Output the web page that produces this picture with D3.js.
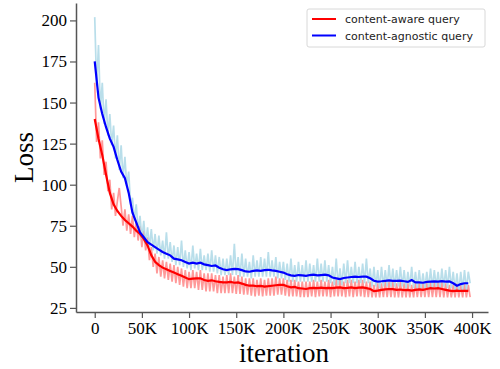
<!DOCTYPE html>
<head>
<meta charset="utf-8">
<style>
  body { margin: 0; background: #fff; }
  .tick text { font-family: "Liberation Serif", "Times New Roman", serif; font-size: 17px; fill: #000; }
  .axis-label { font-family: "Liberation Serif", "Times New Roman", serif; font-size: 27px; fill: #000; }
  .legend text { font-family: "DejaVu Sans", sans-serif; font-size: 11px; fill: #222; }
</style>
</head>
<body>
<div id="chart"></div>
<script src="https://d3js.org/d3.v7.min.js"></script>
<script>
// raw losses, one value every 2K iterations (0 .. 398K)
var rawAware = [
  162, 126, 138, 116, 127, 106, 114, 96, 103, 85,
  95, 81, 90, 98, 87, 75, 85, 72, 82, 70,
  81, 68, 78, 66, 75, 62, 72, 60, 68, 54,
  62, 50, 58, 46, 56, 44, 54, 43, 53, 42,
  52, 41, 51, 40, 50, 39, 49, 38, 48, 37,
  47, 37, 48, 37, 47, 36, 48, 36, 46, 35,
  46, 35, 46, 35, 45, 34, 45, 34, 44, 34,
  45, 34, 46, 34, 44, 33.5, 45, 33.5, 44, 33,
  43, 33, 43, 32.5, 43, 32, 42, 32.5, 43, 32,
  42, 32.5, 43, 32.5, 43, 32.5, 44, 33, 43, 33,
  43, 32.5, 42, 32, 42, 32, 42, 32, 41, 31.5,
  41, 31.5, 41, 31.5, 41, 32, 42, 31.5, 41, 32,
  42, 32, 41, 32, 42, 31.5, 41, 32, 42, 32,
  42, 32, 41, 31.5, 42, 32, 42, 31.5, 41, 32,
  42, 32, 42, 31.5, 41, 31.5, 41, 31.4, 39, 31.4,
  40, 31.4, 40, 31.5, 41, 31.5, 41, 31.5, 41, 31.4,
  40, 31.4, 41, 31.4, 40, 31.4, 40, 31.4, 39, 31.4,
  40, 31.5, 41, 31.5, 40, 31.5, 41, 31.5, 41, 31.5,
  41, 31.5, 41, 31.5, 41, 31.4, 40, 31.4, 39, 31.4,
  39, 31.4, 40, 31.4, 39, 31.4, 40, 31.4, 39, 31.5
];
var rawAgnostic = [
  202, 160, 185, 146, 162, 137, 152, 130, 143, 124,
  136, 116, 130, 109, 124, 104, 117, 99, 108, 88,
  92, 78, 88, 72, 81, 67, 78, 64, 74, 62,
  73, 60, 70, 58, 69, 57, 66, 55, 71, 55,
  65, 53, 63, 51, 62, 51, 66, 50, 60, 49,
  59, 48, 63, 49, 58, 48, 61, 48, 57, 48,
  58, 47, 60, 47, 57, 46, 56, 45, 55, 45,
  55, 45, 57, 45, 64, 45, 56, 44, 58, 44,
  55, 44, 53, 43, 57, 44, 54, 44, 56, 44,
  55, 44, 59, 44, 54, 44, 56, 43, 53, 43,
  53, 42, 52, 41, 55, 41, 51, 41, 53, 41,
  51, 41, 54, 41, 52, 41, 51, 41, 55, 41,
  52, 41, 54, 41, 51, 40, 50, 39, 55, 39,
  49, 39, 52, 40, 54, 40, 50, 40, 53, 40,
  50, 40, 52, 40, 55, 40, 49, 38, 50, 38,
  48, 37, 50, 38, 48, 38, 51, 38, 49, 38,
  48, 38, 50, 38, 48, 37, 47, 38, 50, 37,
  47, 37, 48, 37, 46, 37, 47, 37, 49, 37,
  48, 38, 47, 37, 49, 38, 48, 37, 50, 37,
  47, 36, 46, 35, 47, 36, 48, 36, 47, 40
];

// smoothed losses, one value every 4K iterations (0 .. 396K)
var smoothAware = [
  140, 128, 118, 106, 95, 88, 84, 81, 78.5, 76.5,
  74.5, 72, 70, 67, 63, 57, 53, 51, 49.5, 48.5,
  47.5, 46.5, 45.5, 44.5, 43.5, 42.5, 42.8, 43, 43, 42,
  41.5, 41.8, 41.2, 40.8, 40.5, 40.5, 40.8, 40.3, 40.5, 39.8,
  39, 38.5, 38.6, 38.2, 38.4, 38, 38.2, 38.5, 38.8, 39,
  39, 38.2, 37.5, 37.8, 37, 36.8, 36.5, 37, 37.2, 37,
  37.3, 37, 37.2, 37, 37.3, 37.5, 37, 37.2, 37.5, 37,
  37.3, 37.5, 37, 36.5, 35.2, 35.5, 36, 36.3, 36.5, 36.4,
  36, 36.2, 35.8, 36, 35.5, 36, 36.3, 36, 36.5, 37,
  36.8, 37, 36.5, 36, 35.5, 35.2, 35.5, 35.3, 35.4, 35.4
];
var smoothAgnostic = [
  175, 153, 143, 135, 128, 123, 115, 108, 104, 95,
  83, 77, 71, 68, 65, 63.5, 62, 60.5, 59, 58,
  57, 55, 54.5, 54, 53, 52, 52.5, 52, 52.5, 51.5,
  51, 50.5, 50.8, 49.5, 48.5, 48, 48.5, 48.8, 48.6, 48,
  47.2, 47, 47.5, 47.8, 47.5, 48, 48.2, 47.8, 47.5, 47,
  46.5, 45.5, 44.8, 44.5, 45, 44.8, 44.5, 45, 45.2, 44.8,
  45, 45.2, 44.8, 43.5, 43, 42.5, 43.2, 43.5, 43.8, 44,
  43.8, 44, 44, 43, 41.5, 41, 41.2, 41.5, 41.8, 41.5,
  41.5, 41.6, 41.2, 40.8, 42, 40.5, 40.5, 40.3, 40.8, 41,
  41.2, 41, 41.3, 41, 41.2, 40, 38.5, 39.5, 40, 40
];

var xTicks = [0, 50000, 100000, 150000, 200000, 250000, 300000, 350000, 400000];
var yTicks = [25, 50, 75, 100, 125, 150, 175, 200];
var seriesNames = ["content-aware query", "content-agnostic query"];

var width = 500, height = 369;
var margin = {left: 76, right: 488, top: 3, bottom: 312};

var svg = d3.select("#chart").append("svg")
    .attr("width", width)
    .attr("height", height);

var x = d3.scaleLinear().domain([-19850, 416900]).range([margin.left, margin.right]);
var y = d3.scaleLinear().domain([22.5, 210.6]).range([margin.bottom, margin.top]);

function toPoints(arr, step) {
    return arr.map(function(v, i) { return [i * step, v]; });
}

var line = d3.line()
    .x(function(d) { return x(d[0]); })
    .y(function(d) { return y(d[1]); });

// raw curves
svg.append("path")
    .datum(toPoints(rawAware, 2000))
    .attr("d", line)
    .attr("fill", "none")
    .attr("stroke", "#ff0000")
    .attr("stroke-opacity", 0.4)
    .attr("stroke-width", 1.7);

svg.append("path")
    .datum(toPoints(rawAgnostic, 2000))
    .attr("d", line)
    .attr("fill", "none")
    .attr("stroke", "#add8e6")
    .attr("stroke-opacity", 0.85)
    .attr("stroke-width", 1.7);

// smoothed curves
svg.append("path")
    .datum(toPoints(smoothAware, 4000))
    .attr("d", line)
    .attr("fill", "none")
    .attr("stroke", "#ff0000")
    .attr("stroke-width", 2.2);

svg.append("path")
    .datum(toPoints(smoothAgnostic, 4000))
    .attr("d", line)
    .attr("fill", "none")
    .attr("stroke", "#0000ff")
    .attr("stroke-width", 2.2);

// axes
var xAxis = svg.append("g")
    .attr("transform", "translate(0," + margin.bottom + ")")
    .call(d3.axisBottom(x).tickValues(xTicks).tickSizeInner(6).tickSizeOuter(0).tickPadding(4)
        .tickFormat(function(d) { return d === 0 ? "0" : (d / 1000) + "K"; }));

var yAxis = svg.append("g")
    .attr("transform", "translate(" + margin.left + ",0)")
    .call(d3.axisLeft(y).tickValues(yTicks).tickSizeInner(6).tickSizeOuter(0).tickPadding(3));

[xAxis, yAxis].forEach(function(a) {
    a.select(".domain").attr("stroke", "#555").attr("stroke-width", 1.5);
    a.selectAll(".tick line").attr("stroke", "#555").attr("stroke-width", 1.2);
});

svg.append("text")
    .attr("class", "axis-label")
    .attr("x", 284)
    .attr("y", 362)
    .attr("text-anchor", "middle")
    .text("iteration");

svg.append("text")
    .attr("class", "axis-label")
    .attr("transform", "translate(33," + ((margin.top + margin.bottom) / 2) + ") rotate(-90)")
    .attr("text-anchor", "middle")
    .text("Loss");

// legend
var legend = svg.append("g").attr("class", "legend");
legend.append("rect")
    .attr("x", 307).attr("y", 9)
    .attr("width", 178).attr("height", 38)
    .attr("rx", 2)
    .attr("fill", "#fff")
    .attr("fill-opacity", 0.8)
    .attr("stroke", "#d8d8d8");

var legendColors = ["#ff0000", "#0000ff"];
seriesNames.forEach(function(name, i) {
    var ly = 19 + i * 16.5;
    legend.append("line")
        .attr("x1", 312).attr("x2", 336)
        .attr("y1", ly).attr("y2", ly)
        .attr("stroke", legendColors[i])
        .attr("stroke-width", 2);
    legend.append("text")
        .attr("x", 345).attr("y", ly + 4)
        .text(name);
});
</script>
</body>
